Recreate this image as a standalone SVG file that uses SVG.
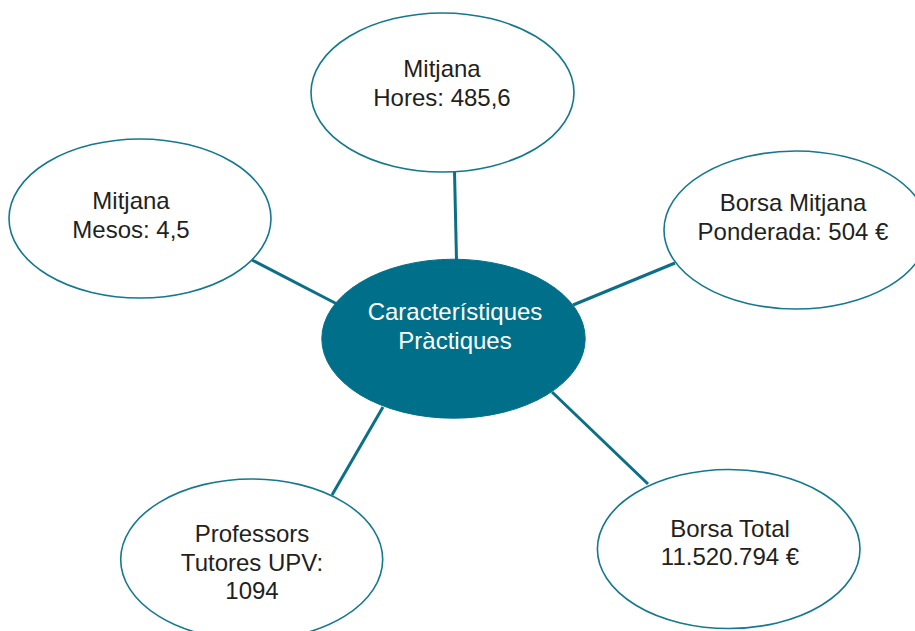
<svg xmlns="http://www.w3.org/2000/svg" width="915" height="631" viewBox="0 0 915 631">
<style>
.n{fill:#fff;stroke:#14788f;stroke-width:1.6}
.c{fill:#00708a;stroke:#00708a;stroke-width:1}
.e{stroke:#0b6f88;stroke-width:3;fill:none}
text{font-family:"Liberation Sans",Arial,sans-serif;font-size:24px;text-anchor:middle;fill:#231f20}
.w{fill:#fff}
</style>
<rect width="915" height="631" fill="#fff"/>
<g id="connectors">
<line class="e" x1="454.5" y1="171" x2="456.5" y2="260"/>
<line class="e" x1="252" y1="260" x2="337" y2="304"/>
<line class="e" x1="573" y1="305" x2="675" y2="263"/>
<line class="e" x1="383" y1="407" x2="332" y2="495"/>
<line class="e" x1="552" y1="392" x2="648" y2="484"/>
</g>
<g id="center">
<ellipse class="c" cx="453.5" cy="338.7" rx="131.7" ry="79.5"/>
<text class="w" x="455" y="320">Característiques</text>
<text class="w" x="455" y="349">Pràctiques</text>
</g>
<g id="top">
<ellipse class="n" cx="442.5" cy="92.5" rx="131.5" ry="79.5"/>
<text x="442" y="77">Mitjana</text>
<text x="442" y="106">Hores: 485,6</text>
</g>
<g id="left">
<ellipse class="n" cx="140" cy="218.5" rx="131" ry="79.5"/>
<text x="131" y="209">Mitjana</text>
<text x="131" y="238">Mesos: 4,5</text>
</g>
<g id="right">
<ellipse class="n" cx="796" cy="230" rx="132" ry="79"/>
<text x="793" y="211">Borsa Mitjana</text>
<text x="793" y="240">Ponderada: 504 €</text>
</g>
<g id="bottomleft">
<ellipse class="n" cx="251.7" cy="559.5" rx="131" ry="80.5"/>
<text x="252" y="542">Professors</text>
<text x="252" y="571">Tutores UPV:</text>
<text x="252" y="599">1094</text>
</g>
<g id="bottomright">
<ellipse class="n" cx="728.7" cy="549" rx="131.3" ry="79.5"/>
<text x="730" y="537">Borsa Total</text>
<text x="730" y="565">11.520.794 €</text>
</g>
</svg>
